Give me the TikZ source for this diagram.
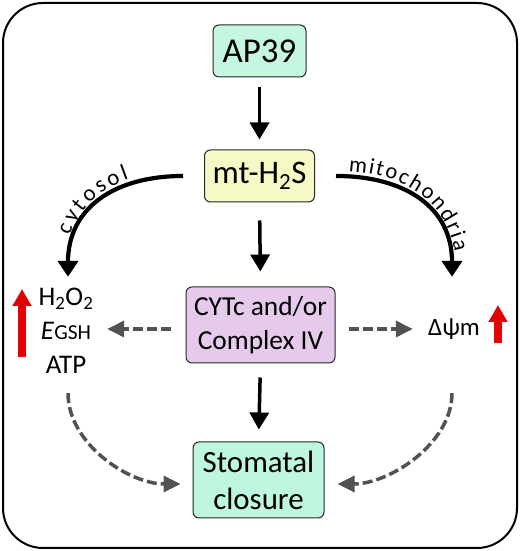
\documentclass[tikz,border=0pt]{standalone}
\usepackage{fontspec}
\setmainfont{Carlito}
\usetikzlibrary{arrows.meta, decorations.text}
\definecolor{apgreen}{RGB}{196,246,224}
\definecolor{h2syellow}{RGB}{246,249,198}
\definecolor{cytlilac}{RGB}{230,202,236}
\definecolor{stomgreen}{RGB}{190,246,222}
\definecolor{dashgray}{RGB}{82,82,82}
\definecolor{upred}{RGB}{226,0,0}
\tikzset{
    box/.style={draw=black!85, line width=1bp, rounded corners=6bp, inner sep=0, align=center},
    side text/.style={text width=60bp, minimum height=100bp, inner sep=0, align=center,
        font=\fontsize{27}{34}\selectfont},
    solid arrow/.style={line width=3.5bp, -{Triangle[width=19bp,length=17bp]}},
    bend arrow/.style={line width=4.2bp, -{Triangle[width=20bp,length=16bp]}},
    dash arrow/.style={draw=dashgray, line width=3.5bp, dash pattern=on 10bp off 4bp,
        -{Triangle[width=16bp,length=17bp]}},
    up arrow/.style={draw=upred, line width=8bp, -{Triangle[width=18bp,length=17bp]}}
}

\begin{document}
\begin{tikzpicture}[x=1bp, y=1bp]

        \useasboundingbox (0,0) rectangle (520,551);
        \draw[line width=2bp, rounded corners=40bp] (3,3) rectangle (517,548);

        % boxes in the middle column
        \node[box, fill=apgreen, minimum width=93bp, minimum height=52bp,
            font=\fontsize{35}{35}\selectfont] (ap39) at (259.5,500) {AP39};
        \node[box, fill=h2syellow, minimum width=110bp, minimum height=52bp,
            font=\fontsize{33}{33}\selectfont] (h2s) at (259.5,375) {mt-H\textsubscript{2}S};
        \node[box, fill=cytlilac, minimum width=149bp, minimum height=76bp,
            font=\fontsize{27.5}{34}\selectfont] (cyt) at (260.5,226) {CYTc and/or\\Complex IV};
        \node[box, fill=stomgreen, minimum width=131bp, minimum height=76bp,
            font=\fontsize{31}{37}\selectfont] (stom) at (258.5,71) {Stomatal\\closure};

        % side effects
        \node[side text] (cytout) at (66,220)
            {H\textsubscript{2}O\textsubscript{2}\\\textit{E}{\fontsize{21.5}{21.5}\selectfont GSH}\\ATP};
        \node[side text, font=\fontsize{25}{33}\selectfont] (mitout) at (454,222) {Δψm};
        \draw[up arrow] (22,194) -- (22,262);
        \draw[up arrow] (498,208) -- (498,246);

        % solid arrows
        \draw[solid arrow, shorten <=10bp, shorten >=10bp] (ap39.south) -- (h2s.north);
        \draw[solid arrow, shorten <=18bp, shorten >=15bp] (h2s.south) -- (cyt.north);
        \draw[solid arrow, shorten <=14bp, shorten >=12bp] (cyt.south) -- (stom.north);
        \draw[bend arrow] ([xshift=-21bp]h2s.west)
            to[out=180, in=90, looseness=1.15] ([xshift=2bp, yshift=4bp]cytout.north);
        \draw[bend arrow] ([xshift=21bp]h2s.east)
            to[out=0, in=90, looseness=1.15] ([xshift=-2bp, yshift=2bp]mitout.north);
        \path[decorate, decoration={text along path, raise=5bp,
                text align={left indent=40bp, right indent=53bp, fit to path},
                text={|\fontsize{23}{23}\selectfont|cytosol}}]
            ([xshift=2bp, yshift=4bp]cytout.north)
            to[out=90, in=180, looseness=1.15] ([xshift=-21bp]h2s.west);
        \path[decorate, decoration={text along path, raise=5bp,
                text align={left indent=12bp, right indent=24bp, fit to path},
                text={|\fontsize{22.5}{22.5}\selectfont|mitochondria}}]
            ([xshift=21bp]h2s.east)
            to[out=0, in=90, looseness=1.15] ([xshift=-2bp, yshift=2bp]mitout.north);

        % dashed arrows
        \draw[dash arrow, shorten <=15bp, shorten >=11bp]
            ([yshift=-4bp]cyt.west) -- ([yshift=-4bp]cyt.west -| cytout.east);
        \draw[dash arrow, shorten <=13bp, shorten >=11bp]
            ([yshift=-4bp]cyt.east) -- ([yshift=-4bp]cyt.east -| mitout.west);
        \draw[dash arrow, shorten <=12bp, shorten >=12bp] ([xshift=2bp]cytout.south)
            to[out=-90, in=180] ([yshift=-4bp]stom.west);
        \draw[dash arrow, shorten <=14bp, shorten >=13bp] ([xshift=-2bp]mitout.south)
            to[out=-90, in=0] ([yshift=-4bp]stom.east);

\end{tikzpicture}
\end{document}
